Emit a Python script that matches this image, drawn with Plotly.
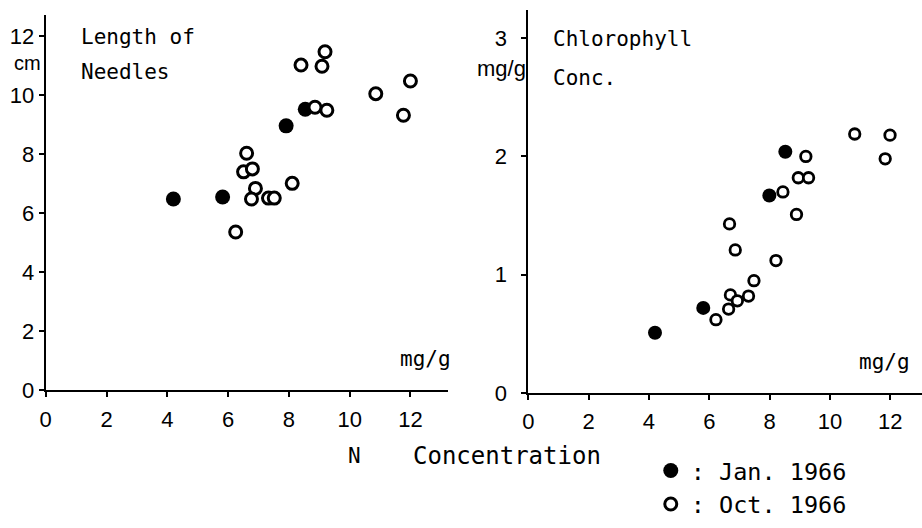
import plotly.graph_objects as go

# ---- data ----
len_jan_x = [4.2, 5.82, 7.91, 8.54]
len_jan_y = [6.48, 6.55, 8.96, 9.52]
len_oct_x = [6.61, 6.51, 6.80, 6.90, 6.77, 7.33, 7.52, 6.25, 8.11, 8.40, 9.19, 9.09, 8.86, 9.25, 10.86, 12.0, 11.77]
len_oct_y = [8.03, 7.40, 7.50, 6.84, 6.48, 6.51, 6.51, 5.36, 7.01, 11.02, 11.47, 10.98, 9.59, 9.49, 10.05, 10.48, 9.32]

chl_jan_x = [4.2, 5.8, 7.99, 8.52]
chl_jan_y = [0.51, 0.72, 1.67, 2.04]
chl_oct_x = [9.2, 8.95, 9.29, 8.44, 8.89, 6.67, 10.82, 11.99, 11.83, 6.86, 8.21, 7.48, 7.3, 6.7, 6.93, 6.64, 6.22]
chl_oct_y = [2.0, 1.82, 1.82, 1.70, 1.51, 1.43, 2.19, 2.18, 1.98, 1.21, 1.12, 0.95, 0.82, 0.83, 0.78, 0.71, 0.62]

x_ticks = [0, 2, 4, 6, 8, 10, 12]
len_y_ticks = [0, 2, 4, 6, 8, 10, 12]
chl_y_ticks = [0, 1, 2, 3]

W, H = 922, 528
MONO = "DejaVu Sans Mono"
NARROW = "Liberation Sans Narrow, Liberation Sans, Arial"

def px(x):
    return x / W

def py(y):
    return 1 - y / H

fig = go.Figure()

fig.add_trace(go.Scatter(x=len_jan_x, y=len_jan_y, mode="markers", name=": Jan. 1966",
                         marker=dict(symbol="circle", size=15, color="black", line=dict(width=0)),
                         xaxis="x", yaxis="y", showlegend=True))
fig.add_trace(go.Scatter(x=len_oct_x, y=len_oct_y, mode="markers", name=": Oct. 1966",
                         marker=dict(symbol="circle", size=12, color="white", line=dict(width=3, color="black")),
                         xaxis="x", yaxis="y", showlegend=True))
fig.add_trace(go.Scatter(x=chl_jan_x, y=chl_jan_y, mode="markers", name="Jan. 1966",
                         marker=dict(symbol="circle", size=14, color="black", line=dict(width=0)),
                         xaxis="x2", yaxis="y2", showlegend=False))
fig.add_trace(go.Scatter(x=chl_oct_x, y=chl_oct_y, mode="markers", name="Oct. 1966",
                         marker=dict(symbol="circle", size=10.5, color="white", line=dict(width=2.8, color="black")),
                         xaxis="x2", yaxis="y2", showlegend=False))

axis_common = dict(showline=True, linewidth=2, linecolor="black", showgrid=False, zeroline=False,
                   ticks="outside", ticklen=5, tickwidth=2, tickcolor="black",
                   tickfont=dict(family=NARROW, size=22, color="black"), fixedrange=True)

fig.update_layout(
    width=W, height=H,
    margin=dict(l=0, r=0, t=0, b=0),
    paper_bgcolor="white", plot_bgcolor="white",
    xaxis=dict(domain=[px(40), px(445)], range=[0, 13.24], tickvals=x_ticks, anchor="y",
               ticklabelstandoff=3, **axis_common),
    yaxis=dict(domain=[py(400), py(15)], range=[0, 12.73], tickvals=len_y_ticks, anchor="x",
               ticklabelstandoff=0, **axis_common),
    xaxis2=dict(domain=[px(525.7), 1.0], range=[0, 13.05], tickvals=x_ticks, anchor="y2",
                ticklabelstandoff=3, **axis_common),
    yaxis2=dict(domain=[py(403), py(10)], range=[0, 3.24], tickvals=chl_y_ticks, anchor="x2",
                ticklabelstandoff=10, **axis_common),
    showlegend=True,
    legend=dict(x=px(649), y=py(460), xanchor="left", yanchor="top",
                font=dict(family=MONO, size=23.5, color="black"),
                bgcolor="rgba(0,0,0,0)", borderwidth=0, itemclick=False, itemdoubleclick=False),
)

def ann(text, x, y, size, family=MONO, xanchor="left"):
    fig.add_annotation(text=text, x=px(x), y=py(y), xref="paper", yref="paper",
                       xanchor=xanchor, yanchor="middle", showarrow=False,
                       font=dict(family=family, size=size, color="black"))

ann("Length of", 73, 38, 21)
ann("Needles", 73, 74, 21)
ann("cm", 37, 65, 20, family=NARROW, xanchor="right")
ann("Chlorophyll", 549, 40, 21)
ann("Conc.", 549, 80, 21)
ann("mg/g", 525, 70, 22, family=NARROW, xanchor="right")
ann("mg/g", 395, 368, 21)
ann("mg/g", 857, 371, 21)
ann("N", 342, 467, 21)
ann("Concentration", 408, 467, 24)

fig.write_html("out.html")
